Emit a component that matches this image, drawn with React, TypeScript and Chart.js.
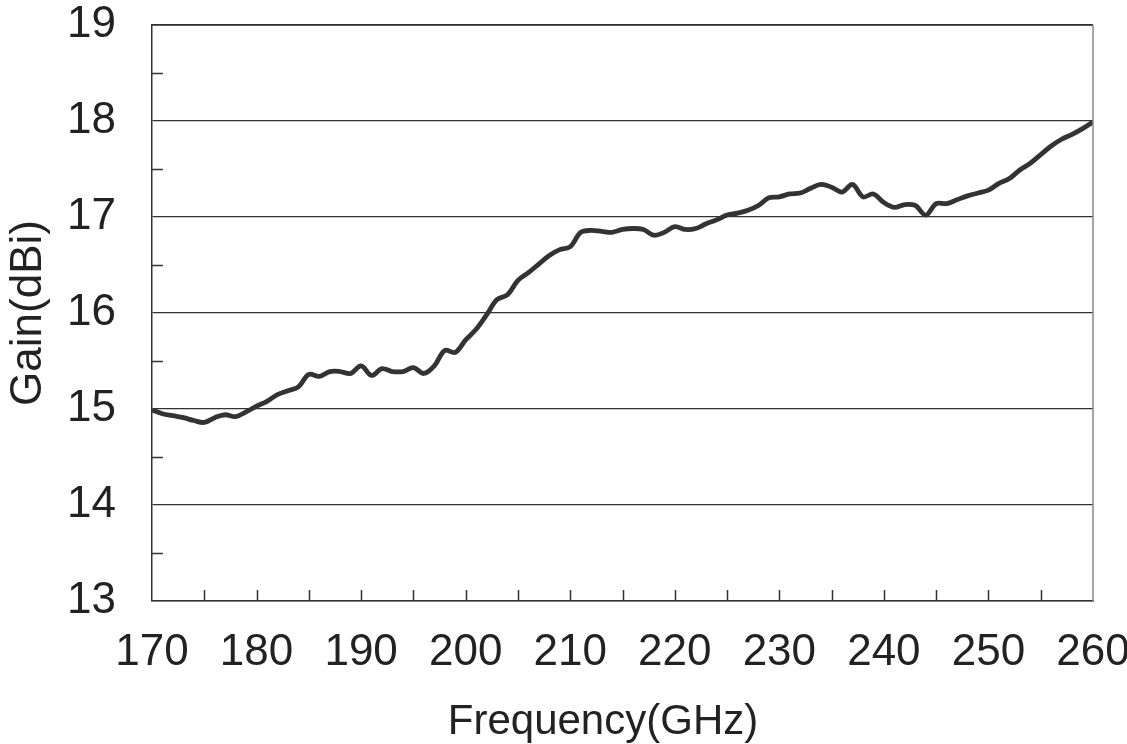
import React, { useEffect, useRef } from "react";
import { Chart, registerables } from "chart.js";

Chart.register(...registerables);

const frequencies = [
  170, 171, 172, 173, 174, 175, 176, 177, 178, 179, 180, 181, 182, 183, 184, 185, 186, 187, 188, 189,
  190, 191, 192, 193, 194, 195, 196, 197, 198, 199, 200, 201, 202, 203, 204, 205, 206, 207, 208, 209,
  210, 211, 212, 213, 214, 215, 216, 217, 218, 219, 220, 221, 222, 223, 224, 225, 226, 227, 228, 229,
  230, 231, 232, 233, 234, 235, 236, 237, 238, 239, 240, 241, 242, 243, 244, 245, 246, 247, 248, 249,
  250, 251, 252, 253, 254, 255, 256, 257, 258, 259, 260,
];

const gainDbi = [
  14.99, 14.95, 14.93, 14.91, 14.88, 14.86, 14.91, 14.94, 14.92, 14.97, 15.03, 15.08, 15.15, 15.19, 15.23, 15.36, 15.34, 15.39, 15.39, 15.37,
  15.45, 15.35, 15.42, 15.39, 15.39, 15.43, 15.37, 15.45, 15.61, 15.59, 15.72, 15.83, 15.98, 16.14, 16.19, 16.34, 16.42, 16.51, 16.6, 16.66,
  16.69, 16.84, 16.86, 16.85, 16.84, 16.87, 16.88, 16.87, 16.81, 16.84, 16.9, 16.87, 16.88, 16.93, 16.97, 17.02, 17.04, 17.07, 17.12, 17.2,
  17.21, 17.24, 17.25, 17.3, 17.34, 17.31, 17.26, 17.34, 17.21, 17.24, 17.15, 17.1, 17.13, 17.12, 17.02, 17.14, 17.14, 17.18, 17.22, 17.25,
  17.28, 17.35, 17.4, 17.49, 17.56, 17.65, 17.74, 17.81, 17.86, 17.92, 17.99,
];

const xTicks = [170, 180, 190, 200, 210, 220, 230, 240, 250, 260];
const yTicks = [13, 14, 15, 16, 17, 18, 19];

const xTitle = "Frequency(GHz)";
const yTitle = "Gain(dBi)";

const FONT = "'Liberation Sans', Arial, sans-serif";

const framePlugin = {
  id: "frameTicks",
  afterDraw(chart: any) {
    const { ctx, chartArea } = chart;
    const xs = chart.scales.x;
    const ys = chart.scales.y;
    ctx.save();
    ctx.lineWidth = 1.5;
    ctx.strokeStyle = "#333";
    ctx.beginPath();
    ctx.moveTo(chartArea.left, chartArea.top);
    ctx.lineTo(chartArea.right, chartArea.top);
    ctx.stroke();
    ctx.strokeStyle = "#888";
    ctx.beginPath();
    ctx.moveTo(chartArea.right, chartArea.top);
    ctx.lineTo(chartArea.right, chartArea.bottom);
    ctx.stroke();
    ctx.strokeStyle = "#333";
    ctx.lineWidth = 1.5;
    for (let f = 175; f < 260; f += 5) {
      const px = Math.round(xs.getPixelForValue(f)) + 0.5;
      ctx.beginPath();
      ctx.moveTo(px, chartArea.bottom);
      ctx.lineTo(px, chartArea.bottom - 11);
      ctx.stroke();
    }
    for (let g = 13.5; g < 19; g += 1) {
      const py = Math.round(ys.getPixelForValue(g)) + 0.5;
      ctx.beginPath();
      ctx.moveTo(chartArea.left, py);
      ctx.lineTo(chartArea.left + 11, py);
      ctx.stroke();
    }
    // x axis title
    ctx.fillStyle = "#222";
    ctx.font = `42px ${FONT}`;
    ctx.textAlign = "center";
    ctx.textBaseline = "alphabetic";
    ctx.fillText(xTitle, 603, 734);
    ctx.restore();
  },
};

function zeroPad(scale: any) {
  scale.paddingTop = 0;
  scale.paddingBottom = 0;
  scale.paddingLeft = 0;
  scale.paddingRight = 0;
}

export default function App() {
  const ref = useRef<HTMLCanvasElement | null>(null);

  useEffect(() => {
    if (!ref.current) return;
    const chart = new Chart(ref.current, {
      type: "line",
      data: {
        datasets: [
          {
            data: frequencies.map((f, i) => ({ x: f, y: gainDbi[i] })),
            borderColor: "#333333",
            borderWidth: 4.8,
            pointRadius: 0,
            tension: 0.35,
            fill: false,
          },
        ],
      },
      options: {
        animation: false,
        responsive: false,
        maintainAspectRatio: false,
        layout: { padding: { top: 25, right: 34, left: 0, bottom: 0 } },
        plugins: { legend: { display: false }, tooltip: { enabled: false } },
        scales: {
          x: {
            type: "linear",
            min: 170,
            max: 260,
            afterBuildTicks(scale: any) {
              scale.ticks = xTicks.map((v) => ({ value: v }));
            },
            afterFit(scale: any) {
              scale.height = 143;
              zeroPad(scale);
            },
            grid: { display: false, drawTicks: false },
            border: { display: true, color: "#333", width: 1.5 },
            ticks: {
              color: "#222",
              padding: 25,
              maxRotation: 0,
              autoSkip: false,
              font: { family: FONT, size: 44 },
            },
            title: { display: false },
          },
          y: {
            type: "linear",
            min: 13,
            max: 19,
            afterBuildTicks(scale: any) {
              scale.ticks = yTicks.map((v) => ({ value: v }));
            },
            afterFit(scale: any) {
              scale.width = 152;
              zeroPad(scale);
            },
            grid: { display: true, drawTicks: false, color: "#333", lineWidth: 1.3 },
            border: { display: true, color: "#333", width: 1.5 },
            ticks: {
              color: "#222",
              padding: 36,
              autoSkip: false,
              font: { family: FONT, size: 44 },
            },
            title: {
              display: true,
              text: yTitle,
              color: "#222",
              font: { family: FONT, size: 44 },
              padding: { top: 2, bottom: 0 },
            },
          },
        },
      },
      plugins: [framePlugin],
    });
    return () => chart.destroy();
  }, []);

  return (
    <div style={{ position: "fixed", left: 0, top: 0, width: 1127, height: 744, background: "#fff" }}>
      <canvas ref={ref} width={1127} height={744} style={{ width: 1127, height: 744, display: "block" }} />
    </div>
  );
}
